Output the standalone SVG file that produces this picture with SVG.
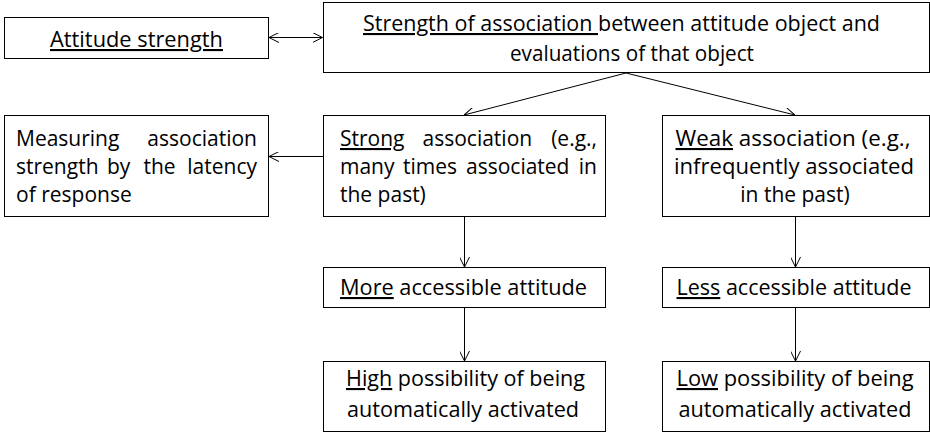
<svg xmlns="http://www.w3.org/2000/svg" width="930" height="435" viewBox="0 0 930 435">
<style>
.box{fill:#fff;stroke:#000;stroke-width:1}
.t{font-family:"Open Sans","Liberation Sans",sans-serif;font-size:21px;fill:#000}
.m{text-anchor:middle}
.e{text-anchor:end}
.u{text-decoration:underline}
.c{stroke:#000;stroke-width:1;fill:none}
</style>
<defs>
<marker id="ah" viewBox="0 0 10 10" refX="10" refY="5" markerWidth="10" markerHeight="10" markerUnits="userSpaceOnUse" orient="auto-start-reverse">
<path d="M0,0 L10,5 L0,10" fill="none" stroke="#000" stroke-width="1"/>
</marker>
</defs>
<rect width="930" height="435" fill="#fff"/>
<g id="connectors">
<line class="c" x1="269" y1="37.5" x2="322.5" y2="37.5" marker-start="url(#ah)" marker-end="url(#ah)"/>
<line class="c" x1="626" y1="73" x2="464" y2="115" marker-end="url(#ah)"/>
<line class="c" x1="626" y1="73" x2="795" y2="115" marker-end="url(#ah)"/>
<line class="c" x1="323" y1="156.5" x2="269" y2="156.5" marker-end="url(#ah)"/>
<line class="c" x1="464.5" y1="216.5" x2="464.5" y2="267" marker-end="url(#ah)"/>
<line class="c" x1="464.5" y1="307.5" x2="464.5" y2="361" marker-end="url(#ah)"/>
<line class="c" x1="795.5" y1="216.5" x2="795.5" y2="267" marker-end="url(#ah)"/>
<line class="c" x1="795.5" y1="307.5" x2="795.5" y2="361" marker-end="url(#ah)"/>
</g>
<g id="attitude-strength">
<rect class="box" x="4.5" y="17.5" width="264" height="41"/>
<text class="t u" x="50" y="47" textLength="173" lengthAdjust="spacingAndGlyphs">Attitude strength</text>
</g>
<g id="strength-of-association">
<rect class="box" x="323.5" y="2.5" width="606" height="70"/>
<text class="t" x="363" y="31" textLength="517" lengthAdjust="spacingAndGlyphs"><tspan class="u">Strength of association </tspan>between attitude object and</text>
<text class="t" x="510" y="61" textLength="244" lengthAdjust="spacingAndGlyphs">evaluations of that object</text>
</g>
<g id="measuring">
<rect class="box" x="4.5" y="115.5" width="264" height="101"/>
<text class="t" x="16" y="146">Measuring</text>
<text class="t e" x="257" y="146">association</text>
<text class="t" x="16" y="174">strength</text>
<text class="t" x="107" y="174">by</text>
<text class="t" x="143.5" y="174">the</text>
<text class="t e" x="257" y="174">latency</text>
<text class="t" x="16" y="202">of response</text>
</g>
<g id="strong">
<rect class="box" x="323.5" y="115.5" width="282" height="101"/>
<text class="t u" x="340" y="146">Strong</text>
<text class="t" x="422.5" y="146">association</text>
<text class="t e" x="597" y="146">(e.g.,</text>
<text class="t" x="340" y="174">many</text>
<text class="t" x="403" y="174">times</text>
<text class="t" x="466" y="174">associated</text>
<text class="t e" x="597" y="174">in</text>
<text class="t" x="340" y="202">the past)</text>
</g>
<g id="weak">
<rect class="box" x="662.5" y="115.5" width="267" height="101"/>
<text class="t m" x="793" y="146" textLength="235" lengthAdjust="spacingAndGlyphs"><tspan class="u">Weak</tspan> association (e.g.,</text>
<text class="t m" x="794" y="174" textLength="240" lengthAdjust="spacingAndGlyphs">infrequently associated</text>
<text class="t m" x="795" y="202">in the past)</text>
</g>
<g id="more">
<rect class="box" x="323.5" y="267.5" width="282" height="40"/>
<text class="t m" x="463.5" y="295" textLength="247" lengthAdjust="spacingAndGlyphs"><tspan class="u">More</tspan> accessible attitude</text>
</g>
<g id="less">
<rect class="box" x="662.5" y="267.5" width="267" height="40"/>
<text class="t m" x="794" y="295" textLength="235" lengthAdjust="spacingAndGlyphs"><tspan class="u">Less</tspan> accessible attitude</text>
</g>
<g id="high">
<rect class="box" x="323.5" y="361.5" width="282" height="70"/>
<text class="t m" x="465.5" y="386" textLength="239" lengthAdjust="spacingAndGlyphs"><tspan class="u">High</tspan> possibility of being</text>
<text class="t m" x="463" y="417" textLength="232" lengthAdjust="spacingAndGlyphs">automatically activated</text>
</g>
<g id="low">
<rect class="box" x="662.5" y="361.5" width="267" height="70"/>
<text class="t m" x="795" y="386" textLength="237" lengthAdjust="spacingAndGlyphs"><tspan class="u">Low</tspan> possibility of being</text>
<text class="t m" x="795" y="417" textLength="233" lengthAdjust="spacingAndGlyphs">automatically activated</text>
</g>
</svg>
